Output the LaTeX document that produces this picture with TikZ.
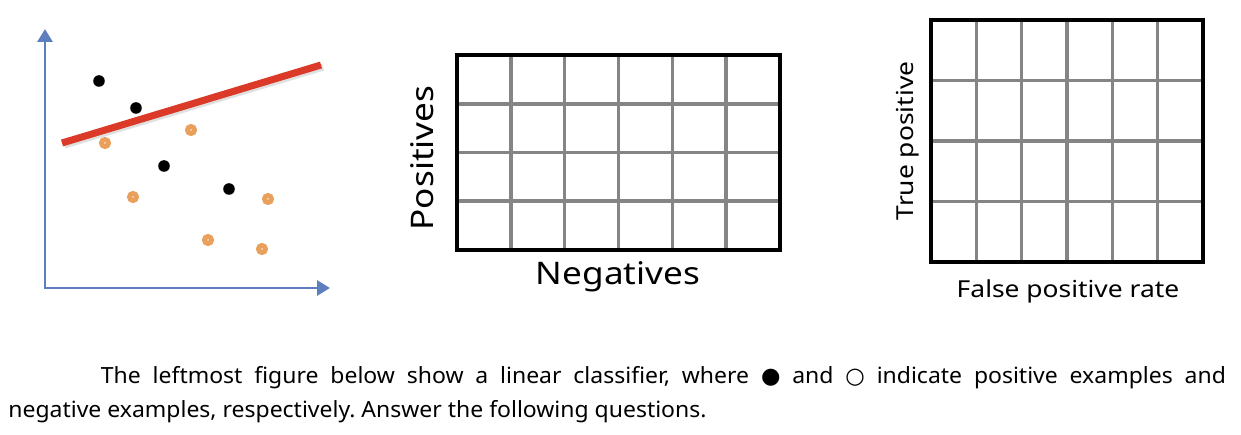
\documentclass[tikz,border=0pt]{standalone}
\usepackage{fontspec}
\setmainfont{Noto Sans}[FakeStretch=1.13]
\newfontfamily\captionfont{Noto Sans}[FakeStretch=1.03]
\newfontfamily\symfont{DejaVu Sans}
\usetikzlibrary{arrows.meta}

\definecolor{axisblue}{HTML}{5E7FBF}
\definecolor{sepred}{HTML}{DA3A27}
\definecolor{negorange}{HTML}{E8A05C}
\definecolor{gridgray}{HTML}{858585}

\tikzset{
  axisline/.style={axisblue, line width=1.7pt, line join=miter,
    {Triangle[length=7.4pt, width=8.5pt]}-{Triangle[length=7.4pt, width=8.5pt]}},
  sepline/.style={sepred, line width=4pt},
  posdot/.style={circle, fill=black, inner sep=0pt, minimum size=6.6pt},
  negdot/.style={circle, draw=negorange, fill=white, line width=2.8pt, inner sep=0pt, minimum size=4pt},
  gridline/.style={gridgray, line width=2pt},
  gridframe/.style={black, line width=2.3pt},
  biglabel/.style={inner sep=0pt, font=\fontsize{17.7pt}{21pt}\selectfont},
  smalllabel/.style={inner sep=0pt, font=\fontsize{13.3pt}{16pt}\selectfont}
}

\begin{document}
\begin{tikzpicture}[x=0.02cm, y=-0.02cm]
  \useasboundingbox (0,0) rectangle (1241,435);

  % Left plot: axes
  \coordinate (origin) at (45,288);
  \coordinate (ytip) at (45,29);
  \coordinate (xtip) at (330,288);
  \draw[axisline] (ytip) -- (origin) -- (xtip);

  % Separating line (with a soft shadow)
  \coordinate (sepA) at (62,143);
  \coordinate (sepB) at (321,65);
  \draw[sepline, black, opacity=0.12, transform canvas={xshift=1.2pt, yshift=-1.2pt}] (sepA) -- (sepB);
  \draw[sepline] (sepA) -- (sepB);

  % Positive examples
  \node[posdot] (pos1) at (99,81) {};
  \node[posdot] (pos2) at (136,108) {};
  \node[posdot] (pos3) at (164,166) {};
  \node[posdot] (pos4) at (229,189) {};

  % Negative examples
  \node[negdot] (neg1) at (105,143) {};
  \node[negdot] (neg2) at (191,130) {};
  \node[negdot] (neg3) at (133,197) {};
  \node[negdot] (neg4) at (268,199) {};
  \node[negdot] (neg5) at (208,240) {};
  \node[negdot] (neg6) at (262,249) {};

  % Middle grid (6 x 4)
  \foreach \i in {1,...,5}
    \draw[gridline] ({457+\i*53.83},55) -- ({457+\i*53.83},250);
  \foreach \j in {1,2,3}
    \draw[gridline] (457,{55+\j*48.75}) -- (780,{55+\j*48.75});
  \draw[gridframe] (457,55) rectangle (780,250);
  \node[biglabel, rotate=90, anchor=base] (poslabel) at (433,158) {Positives};
  \node[biglabel, anchor=base] (neglabel) at (618,285) {Negatives};

  % Right grid (6 x 4)
  \foreach \i in {1,...,5}
    \draw[gridline] ({931+\i*45.33},20) -- ({931+\i*45.33},262);
  \foreach \j in {1,2,3}
    \draw[gridline] (931,{20+\j*60.5}) -- (1203,{20+\j*60.5});
  \draw[gridframe] (931,20) rectangle (1203,262);
  \node[smalllabel, rotate=90, anchor=base] (tplabel) at (913,141) {True positive};
  \node[smalllabel, anchor=base] (fprlabel) at (1068,298) {False positive rate};

  % Caption
  \node[anchor=base west, inner sep=0pt, text width=693pt, align=justify,
        font=\captionfont\fontsize{12.7pt}{19.3pt}\selectfont\frenchspacing] (caption) at (8,384)
    {\hspace*{52.7pt}The leftmost figure below show a linear classifier, where {\symfont ●} and {\symfont ○} indicate positive examples and\linebreak
     negative examples, respectively. Answer the following questions.};
\end{tikzpicture}
\end{document}
